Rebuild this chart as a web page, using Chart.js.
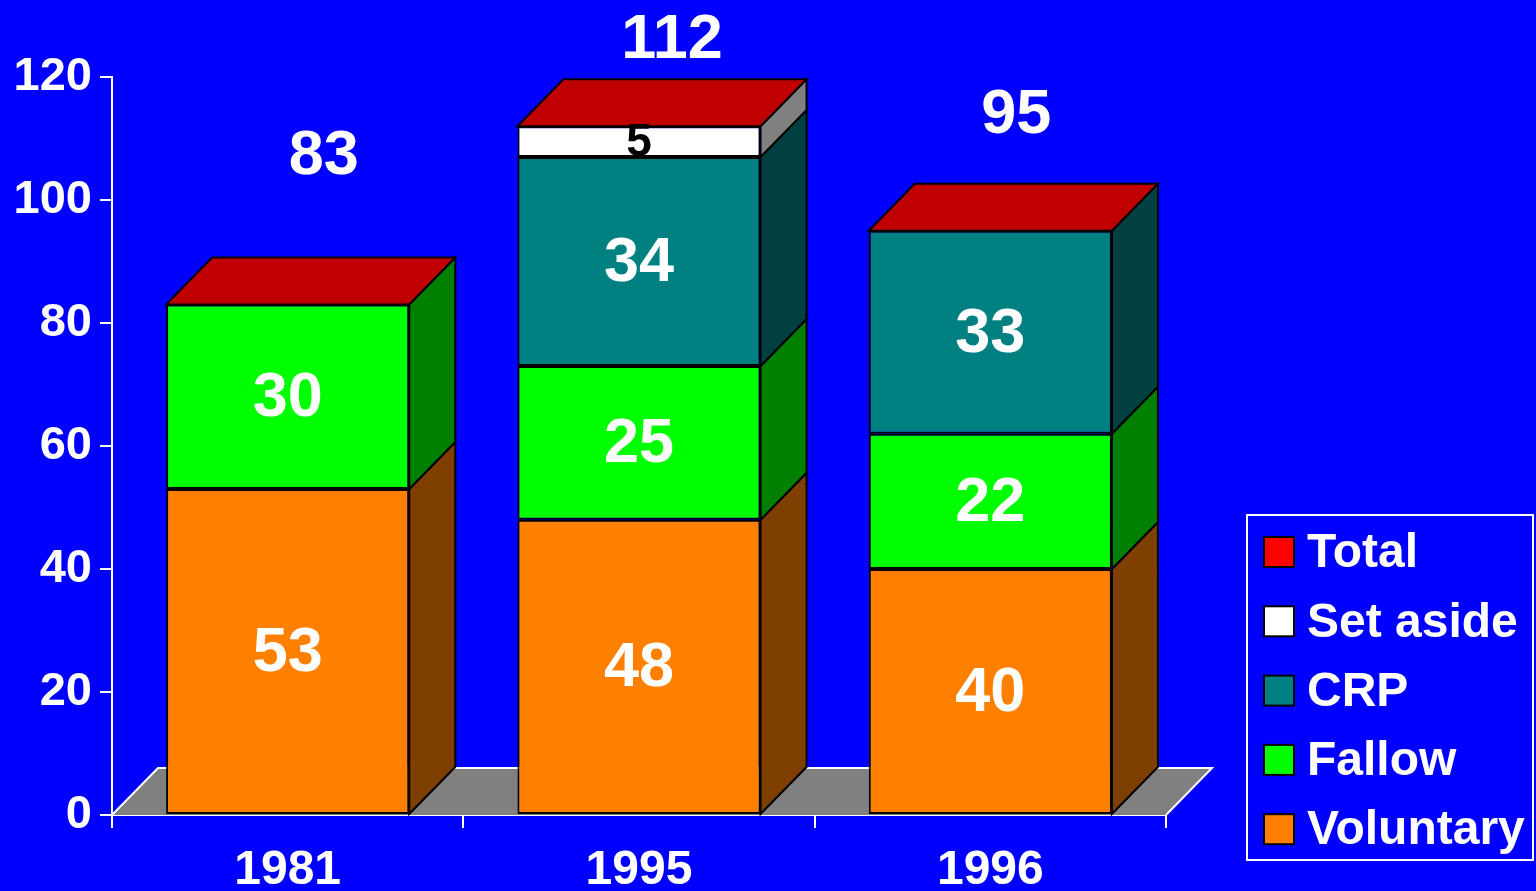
<!DOCTYPE html>
<html>
<head>
<meta charset="utf-8">
<script src="https://cdn.jsdelivr.net/npm/chart.js@4.4.1/dist/chart.umd.min.js"></script>
<style>
  html, body { margin: 0; padding: 0; background: #0000ff; overflow: hidden; }
  #chart { display: block; }
</style>
</head>
<body>
<canvas id="chart" width="1536" height="891"></canvas>
<script>
// data
const years = ['1981', '1995', '1996'];
const voluntary = [53, 48, 40];
const fallow = [30, 25, 22];
const crp = [null, 34, 33];
const setAside = [null, 5, null];
const totals = [83, 112, 95];
const yMax = 120;
const yStep = 20;

const FONT = "'Liberation Sans', Arial, Helvetica, sans-serif";
const DEPTH = { dx: 46, dy: -47 };

// front / side colours per series
const look = {
  Voluntary: { front: '#ff8000', side: '#7f3f00', text: '#ffffff', size: 63 },
  Fallow: { front: '#00ff00', side: '#008000', text: '#ffffff', size: 63 },
  CRP: { front: '#008080', side: '#004040', text: '#ffffff', size: 63 },
  'Set aside': { front: '#ffffff', side: '#808080', text: '#000000', size: 46 },
  Total: { front: '#ff0000', top: '#c00000' },
};

function bar(label, data) {
  return {
    label,
    data,
    backgroundColor: look[label].front,
    borderColor: '#000000',
    borderWidth: 2,
    borderSkipped: false,
    categoryPercentage: 1,
    barPercentage: 0.692,
  };
}

function face(ctx, pts, fill) {
  ctx.beginPath();
  ctx.moveTo(pts[0][0], pts[0][1]);
  pts.slice(1).forEach((p) => ctx.lineTo(p[0], p[1]));
  ctx.closePath();
  ctx.fillStyle = fill;
  ctx.fill();
  ctx.strokeStyle = '#000000';
  ctx.lineWidth = 2;
  ctx.lineJoin = 'miter';
  ctx.stroke();
}

const box3d = {
  id: 'box3d',
  beforeDatasetsDraw(chart) {
    const { ctx, chartArea: a, scales: { y } } = chart;
    const y0 = y.getPixelForValue(0);
    const { dx, dy } = DEPTH;
    ctx.save();
    ctx.beginPath();
    ctx.moveTo(a.left, y0);
    ctx.lineTo(a.left + dx, y0 + dy);
    ctx.lineTo(a.right + dx, y0 + dy);
    ctx.lineTo(a.right, y0);
    ctx.closePath();
    ctx.fillStyle = '#808080';
    ctx.fill();
    ctx.beginPath();
    ctx.moveTo(a.left, y0);
    ctx.lineTo(a.left + dx, y0 + dy);
    ctx.lineTo(a.right + dx, y0 + dy);
    ctx.lineTo(a.right, y0);
    ctx.strokeStyle = '#ffffff';
    ctx.lineWidth = 2;
    ctx.stroke();
    ctx.restore();
  },
  afterDatasetsDraw(chart, args, opts) {
    const { ctx } = chart;
    const { dx, dy } = DEPTH;
    const tops = [];
    ctx.save();
    chart.data.datasets.forEach((ds, di) => {
      if (ds.type === 'line') return;
      const meta = chart.getDatasetMeta(di);
      meta.data.forEach((el, i) => {
        if (ds.data[i] == null) return;
        const right = el.x + el.width / 2;
        face(ctx, [[right, el.y], [right + dx, el.y + dy], [right + dx, el.base + dy], [right, el.base]], look[ds.label].side);
        if (!tops[i] || el.y < tops[i].y) tops[i] = { x: el.x, y: el.y, w: el.width };
      });
    });
    tops.forEach((t) => {
      const l = t.x - t.w / 2;
      const r = t.x + t.w / 2;
      face(ctx, [[l, t.y], [l + dx, t.y + dy], [r + dx, t.y + dy], [r, t.y]], look.Total.top);
    });

    // segment values
    ctx.textAlign = 'center';
    ctx.textBaseline = 'middle';
    chart.data.datasets.forEach((ds, di) => {
      if (ds.type === 'line') return;
      const meta = chart.getDatasetMeta(di);
      meta.data.forEach((el, i) => {
        if (ds.data[i] == null) return;
        ctx.font = `bold ${look[ds.label].size}px ${FONT}`;
        ctx.fillStyle = look[ds.label].text;
        ctx.fillText(String(ds.data[i]), el.x, (el.y + el.base) / 2 + 2);
      });
    });

    // totals above the boxes
    ctx.font = `bold 63px ${FONT}`;
    ctx.fillStyle = '#ffffff';
    tops.forEach((t, i) => {
      const s = opts.totalShift[i];
      ctx.fillText(String(totals[i]), t.x + s[0], t.y + s[1]);
    });

    // legend
    const L = opts.legend;
    ctx.strokeStyle = '#ffffff';
    ctx.lineWidth = 2;
    ctx.strokeRect(L.x, L.y, L.w, L.h);
    const order = chart.data.datasets.map((d) => d.label).reverse();
    ctx.textAlign = 'left';
    ctx.font = `bold 48px ${FONT}`;
    order.forEach((name, k) => {
      const cy = L.y + L.first + k * L.step;
      ctx.fillStyle = look[name].front;
      ctx.fillRect(L.x + 17, cy - 15, 30, 30);
      ctx.strokeStyle = '#000000';
      ctx.lineWidth = 2;
      ctx.strokeRect(L.x + 17, cy - 15, 30, 30);
      ctx.fillStyle = '#ffffff';
      ctx.fillText(name, L.x + 60, cy + 2);
    });
    ctx.restore();
  },
};

new Chart(document.getElementById('chart'), {
  type: 'bar',
  data: {
    labels: years,
    datasets: [
      bar('Voluntary', voluntary),
      bar('Fallow', fallow),
      bar('CRP', crp),
      bar('Set aside', setAside),
      {
        type: 'line',
        label: 'Total',
        data: totals,
        showLine: false,
        pointRadius: 0,
        backgroundColor: look.Total.front,
      },
    ],
  },
  options: {
    responsive: false,
    animation: false,
    events: [],
    layout: { padding: { top: 77, right: 370, left: 0, bottom: 0 } },
    plugins: {
      legend: { display: false },
      tooltip: { enabled: false },
      box3d: {
        totalShift: [[36, -148], [33, -86], [26, -115]],
        legend: { x: 1247, y: 515, w: 286, h: 345, first: 37, step: 69.3 },
      },
    },
    scales: {
      x: {
        stacked: true,
        z: 1,
        border: { color: '#ffffff', width: 2 },
        grid: { drawOnChartArea: false, color: '#ffffff', lineWidth: 2, tickLength: 13, offset: true },
        ticks: { color: '#ffffff', font: { family: FONT, size: 48, weight: 'bold' }, padding: 14 },
        afterFit: (s) => { s.height = 76; },
      },
      y: {
        stacked: true,
        min: 0,
        max: yMax,
        z: 1,
        border: { color: '#ffffff', width: 2 },
        grid: { drawOnChartArea: false, color: '#ffffff', lineWidth: 2, tickLength: 12 },
        ticks: { stepSize: yStep, color: '#ffffff', font: { family: FONT, size: 47, weight: 'bold' }, padding: 8 },
        afterFit: (s) => { s.width = 112; },
      },
    },
  },
  plugins: [box3d],
});
</script>
</body>
</html>
